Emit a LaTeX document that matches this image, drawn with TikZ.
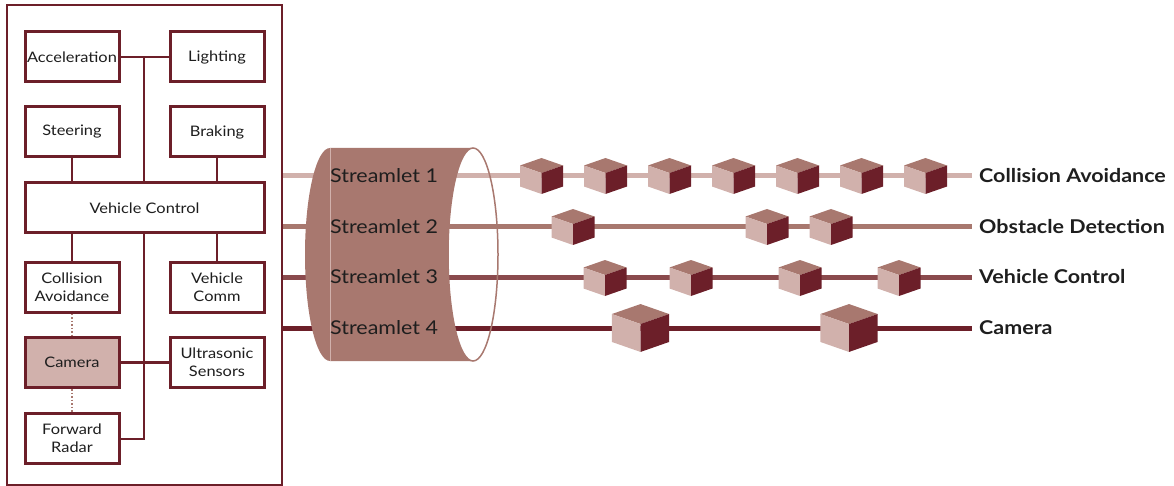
\documentclass[tikz,border=0pt]{standalone}
\usepackage{fontspec}
\setmainfont{Lato}[FakeStretch=1.13]
\definecolor{maroon}{HTML}{6C1F29}
\definecolor{rosy}{HTML}{A8786F}
\definecolor{blush}{HTML}{D1B1AC}
\definecolor{wine}{HTML}{8A4A4D}
\definecolor{ink}{HTML}{1E1E1E}

% isometric cube centred at (#1,#2), scaled by #3
\newcommand\drawcube[3]{%
  \begin{scope}[shift={(#1,#2)}, scale=#3]
    \fill[rosy]   (0,-18) -- (21.5,-10.5) -- (0,-3) -- (-21.5,-10.5) -- cycle;
    \fill[blush]  (-21.5,-10.5) -- (0,-3) -- (0,18) -- (-21.5,10.5) -- cycle;
    \fill[maroon] (0,-3) -- (21.5,-10.5) -- (21.5,10.5) -- (0,18) -- cycle;
  \end{scope}}

\begin{document}
\begin{tikzpicture}[x=1pt, y=-1pt,
  unit/.style={draw=maroon, line width=3pt, fill=white, minimum width=94pt,
    minimum height=50pt, inner sep=0pt, align=center, text=ink,
    font=\fontsize{14.5}{18}\selectfont},
  wire/.style={draw=maroon, line width=2.5pt},
  weak/.style={draw=rosy, line width=1.5pt, dotted},
  stream/.style={line width=5pt},
  slabel/.style={anchor=west, text=ink, inner sep=0pt, font=\fontsize{19}{22}\selectfont},
  tlabel/.style={anchor=west, text=ink, inner xsep=7pt, inner ysep=0pt,
    font=\bfseries\fontsize{19}{22}\selectfont}]

\useasboundingbox (0,0) rectangle (1174,486);

% vehicle system frame
\node[draw=maroon, line width=2pt, minimum width=275pt, minimum height=480pt,
  inner sep=0pt] (sys) at (144.5,245) {};

% subsystems
\node[unit] (acc)   at (72,57)    {Acceleration};
\node[unit] (light) at (217,57)   {Lighting};
\node[unit] (steer) at (72,132)   {Steering};
\node[unit] (brake) at (217,132)  {Braking};
\node[unit, minimum width=239pt] (vc) at (144.5,208) {Vehicle Control};
\node[unit] (ca)    at (72,287)   {Collision\\Avoidance};
\node[unit] (comm)  at (217,287)  {Vehicle\\Comm};
\node[unit, fill=blush] (cam) at (72,362.5) {Camera};
\node[unit] (ultra) at (217,362.5) {Ultrasonic\\Sensors};
\node[unit] (radar) at (72,438.5) {Forward\\Radar};

% bus wiring
\coordinate (btop) at (144,57);
\coordinate (bend) at (144,439);
\draw[wire] (acc) -- (light);
\draw[wire] (btop) -- (btop |- vc.north);
\draw[wire] (steer) -- (steer |- vc.north);
\draw[wire] (brake) -- (brake |- vc.north);
\draw[wire] (ca) -- (ca |- vc.south);
\draw[wire] (comm) -- (comm |- vc.south);
\draw[wire] (bend |- vc.south) -- (bend) -- (radar.east |- bend);
\draw[wire] (cam) -- (ultra);
\draw[weak] (ca) -- (cam);
\draw[weak] (cam) -- (radar);

% topic labels
\node[tlabel] (t1) at (972,176) {Collision Avoidance};
\node[tlabel] (t2) at (972,227) {Obstacle Detection};
\node[tlabel] (t3) at (972,277) {Vehicle Control};
\node[tlabel] (t4) at (972,328) {Camera};

% streams
\draw[stream, blush]  (sys.east |- t1) -- (t1.west);
\draw[stream, rosy]   (sys.east |- t2) -- (t2.west);
\draw[stream, wine]   (sys.east |- t3) -- (t3.west);
\draw[stream, maroon] (sys.east |- t4) -- (t4.west);

% cylinder
\fill[rosy] (330,148) -- (473,148)
  arc[start angle=270, end angle=90, x radius=25, y radius=106.5]
  -- (330,361)
  arc[start angle=90, end angle=270, x radius=25, y radius=106.5] -- cycle;
\draw[blush, line width=0.6pt] (330,148) -- (330,361);
\draw[rosy, line width=1.5pt] (473,254.5) ellipse[x radius=25, y radius=106.5];

\node[slabel] (s1) at (330,176) {Streamlet 1};
\node[slabel] (s2) at (330,227) {Streamlet 2};
\node[slabel] (s3) at (330,277) {Streamlet 3};
\node[slabel] (s4) at (330,328) {Streamlet 4};

% messages
\foreach \cx in {541.5,605.5,669.5,733.5,797.5,861.5,925.5} {\drawcube{\cx}{176}{1}}
\foreach \cx in {573,767,831} {\drawcube{\cx}{227}{1}}
\foreach \cx in {605,691,800,899} {\drawcube{\cx}{278}{1}}
\foreach \cx in {640.5,849} {\drawcube{\cx}{328}{1.33}}

\end{tikzpicture}
\end{document}
